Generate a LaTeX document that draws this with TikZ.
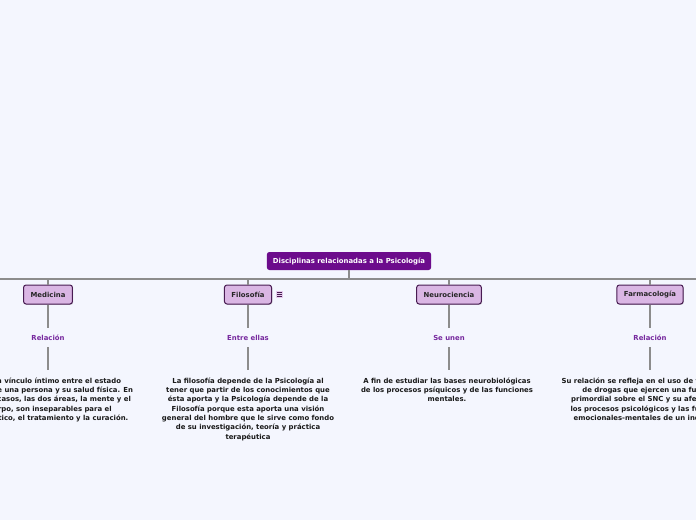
\documentclass[tikz,border=0pt]{standalone}
\usepackage{fontspec}
\setmainfont{DejaVu Sans}
\usetikzlibrary{shadows}

\definecolor{bgblue}{RGB}{244,246,254}
\definecolor{rootpurple}{RGB}{108,12,140}
\definecolor{subpurple}{RGB}{218,182,228}
\definecolor{subborder}{RGB}{72,28,82}
\definecolor{labelpurple}{RGB}{118,40,158}
\definecolor{linegray}{RGB}{140,140,140}

\tikzset{
  rootbox/.style={fill=rootpurple, text=white, rounded corners=2.5pt, minimum height=18pt, inner xsep=6pt, font=\bfseries\fontsize{6.9}{8}\selectfont},
  subbox/.style={fill=subpurple, draw=subborder, line width=1pt, rounded corners=2.5pt, minimum height=19pt, inner xsep=7pt, text=black!85, drop shadow={shadow xshift=0.8pt, shadow yshift=-0.8pt, opacity=0.35}, font=\bfseries\fontsize{6.9}{8}\selectfont},
  linklabel/.style={text=labelpurple, font=\bfseries\fontsize{6.9}{8}\selectfont},
  bodytext/.style={align=center, anchor=north, inner sep=0pt, text=black!90, font=\bfseries\fontsize{6.9}{9.3}\selectfont},
  bus/.style={linegray, line width=1.6pt},
  twig/.style={linegray, line width=1.1pt},
}

\begin{document}
\begin{tikzpicture}[x=1pt, y=-1pt]
\fill[bgblue] (0,0) rectangle (696,520);
\useasboundingbox (0,0) rectangle (696,520);
\begin{scope}
\clip (0,0) rectangle (696,520);
\node[rootbox] (root) at (349,261) {Disciplinas relacionadas a la Psicología};
\coordinate (busL) at (0,279);
\coordinate (busR) at (696,279);
\coordinate (busC) at (349,279);
\draw[bus] (busL) -- (busR);
\draw[bus] (root.south) -- (busC);
% Medicina
\node[subbox] (med) at (48,294.5) {Medicina};
\node[linklabel] (medrel) at (48,338) {Relación};
\node[bodytext] (medtxt) at (48,377.5) {Hay un vínculo íntimo entre el estado\\mental de una persona y su salud física. En\\muchos casos, las dos áreas, la mente y el\\cuerpo, son inseparables para el\\diagnóstico, el tratamiento y la curación.};
\draw[twig] (med.north) -- (med.north |- busC);
\draw[twig] (med.south) -- ++(0,23);
\draw[twig] (medrel.south) ++(0,3) -- ++(0,23);
% Filosofia
\node[subbox] (fil) at (248,294.5) {Filosofía};
\node[linklabel] (filrel) at (248,338) {Entre ellas};
\node[bodytext] (filtxt) at (248,377.5) {La filosofía depende de la Psicología al\\tener que partir de los conocimientos que\\ésta aporta y la Psicología depende de la\\Filosofía porque esta aporta una visión\\general del hombre que le sirve como fondo\\de su investigación, teoría y práctica\\terapéutica};
\draw[twig] (fil.north) -- (fil.north |- busC);
\draw[twig] (fil.south) -- ++(0,23);
\draw[twig] (filrel.south) ++(0,3) -- ++(0,23);
\node[fill=subpurple!70, minimum width=7pt, minimum height=7pt, inner sep=0pt] (filnote) at (279.5,294.5) {};
\draw[subborder, line width=0.8pt] (filnote.center) ++(-2.3,-2) -- ++(4.6,0) ++(-4.6,2) -- ++(4.6,0) ++(-4.6,2) -- ++(4.6,0);
% Neurociencia
\node[subbox] (neu) at (449,294.5) {Neurociencia};
\node[linklabel] (neurel) at (449,338) {Se unen};
\node[bodytext] (neutxt) at (447,377.5) {A fin de estudiar las bases neurobiológicas\\de los procesos psíquicos y de las funciones\\mentales.};
\draw[twig] (neu.north) -- (neu.north |- busC);
\draw[twig] (neu.south) -- ++(0,23);
\draw[twig] (neurel.south) ++(0,3) -- ++(0,23);
% Farmacologia
\node[subbox] (far) at (650,294.5) {Farmacología};
\node[linklabel] (farrel) at (650,338) {Relación};
\node[bodytext] (fartxt) at (650,377.5) {Su relación se refleja en el uso de fármacos y\\de drogas que ejercen una función\\primordial sobre el SNC y su afección en\\los procesos psicológicos y las funciones\\emocionales-mentales de un individuo.};
\draw[twig] (far.north) -- (far.north |- busC);
\draw[twig] (far.south) -- ++(0,23);
\draw[twig] (farrel.south) ++(0,3) -- ++(0,23);
\end{scope}
\end{tikzpicture}
\end{document}
